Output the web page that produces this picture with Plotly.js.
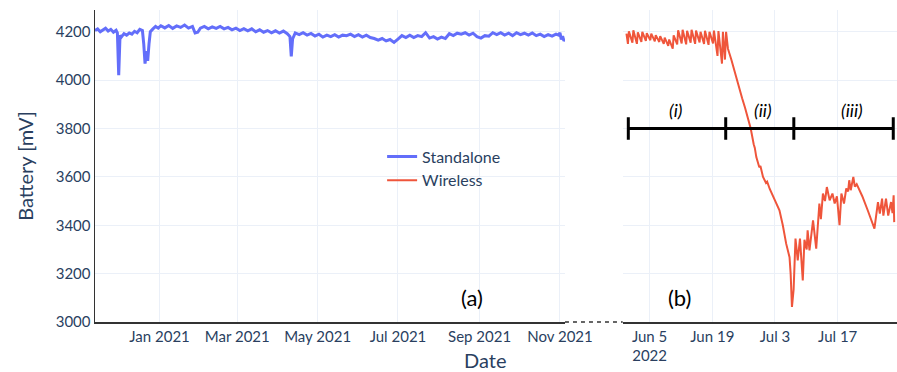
<!DOCTYPE html>
<html>
<head>
<meta charset="utf-8">
<script src="https://cdn.plot.ly/plotly-3.0.1.min.js"></script>
<style>html,body{margin:0;padding:0;background:#fff;}#chart{width:897px;height:372px;}</style>
</head>
<body>
<div id="chart"></div>
<script>
// ---------- DATA ----------
const standaloneDates = [
'2020-11-13','2020-11-15','2020-11-17','2020-11-19','2020-11-21','2020-11-23','2020-11-25','2020-11-27','2020-11-29','2020-11-30',
'2020-12-01','2020-12-02','2020-12-03','2020-12-05','2020-12-07','2020-12-09','2020-12-11','2020-12-13','2020-12-15','2020-12-17',
'2020-12-19','2020-12-20','2020-12-21','2020-12-22','2020-12-23','2020-12-24','2020-12-25','2020-12-27','2020-12-29','2020-12-31',
'2021-01-02','2021-01-05','2021-01-08','2021-01-11','2021-01-14','2021-01-17','2021-01-20','2021-01-23','2021-01-26','2021-01-28',
'2021-01-30','2021-02-01','2021-02-04','2021-02-07','2021-02-10','2021-02-13','2021-02-16','2021-02-19','2021-02-22','2021-02-25',
'2021-02-28','2021-03-03','2021-03-06','2021-03-09','2021-03-12','2021-03-15','2021-03-18','2021-03-21','2021-03-24','2021-03-27',
'2021-03-30','2021-04-02','2021-04-05','2021-04-08','2021-04-10','2021-04-11','2021-04-12','2021-04-14','2021-04-17','2021-04-20',
'2021-04-23','2021-04-26','2021-04-29','2021-05-02','2021-05-05','2021-05-08','2021-05-11','2021-05-14','2021-05-17','2021-05-20',
'2021-05-23','2021-05-26','2021-05-29','2021-06-01','2021-06-04','2021-06-07','2021-06-10','2021-06-13','2021-06-16','2021-06-19',
'2021-06-22','2021-06-25','2021-06-28','2021-07-01','2021-07-04','2021-07-07','2021-07-10','2021-07-13','2021-07-16','2021-07-19',
'2021-07-22','2021-07-25','2021-07-28','2021-07-31','2021-08-03','2021-08-06','2021-08-09','2021-08-12','2021-08-15','2021-08-18',
'2021-08-21','2021-08-24','2021-08-27','2021-08-30','2021-09-02','2021-09-05','2021-09-08','2021-09-11','2021-09-14','2021-09-17',
'2021-09-20','2021-09-23','2021-09-26','2021-09-29','2021-10-02','2021-10-05','2021-10-08','2021-10-11','2021-10-14','2021-10-17',
'2021-10-20','2021-10-23','2021-10-26','2021-10-29','2021-10-31','2021-11-01','2021-11-02','2021-11-03','2021-11-04','2021-11-05'
];
const standaloneValues = [
4205,4212,4200,4208,4215,4203,4210,4198,4206,4195,
4020,4185,4178,4192,4186,4195,4190,4202,4196,4210,
4205,4150,4068,4120,4080,4150,4200,4212,4222,4215,
4225,4216,4226,4214,4224,4218,4228,4215,4222,4195,
4198,4215,4222,4212,4220,4214,4222,4212,4218,4208,
4215,4205,4213,4204,4212,4200,4208,4198,4205,4196,
4204,4195,4203,4192,4180,4098,4170,4195,4188,4196,
4186,4193,4182,4190,4178,4186,4180,4188,4178,4186,
4184,4190,4180,4188,4178,4186,4176,4172,4165,4172,
4162,4168,4156,4170,4184,4176,4186,4176,4184,4180,
4196,4174,4180,4170,4178,4172,4192,4184,4194,4190,
4196,4186,4194,4180,4174,4184,4182,4196,4188,4196,
4186,4194,4184,4196,4188,4194,4186,4195,4184,4190,
4180,4188,4182,4190,4186,4196,4168,4182,4162,4170
];

const wirelessDates = [
'2022-05-30 20:00','2022-05-31 04:00','2022-05-31 09:00','2022-06-01 04:00','2022-06-01 09:00','2022-06-02 04:00','2022-06-02 09:00',
'2022-06-03 04:00','2022-06-03 09:00','2022-06-04 04:00','2022-06-04 09:00','2022-06-05 04:00','2022-06-05 09:00','2022-06-06 04:00',
'2022-06-06 09:00','2022-06-07 04:00','2022-06-07 09:00','2022-06-08 04:00','2022-06-08 09:00','2022-06-09 04:00','2022-06-09 09:00',
'2022-06-10 04:00','2022-06-10 09:00','2022-06-11 04:00','2022-06-11 09:00','2022-06-12 04:00','2022-06-12 09:00','2022-06-13 04:00',
'2022-06-13 09:00','2022-06-14 04:00','2022-06-14 09:00','2022-06-15 04:00','2022-06-15 09:00','2022-06-16 04:00','2022-06-16 09:00',
'2022-06-17 04:00','2022-06-17 09:00','2022-06-18 04:00','2022-06-18 09:00','2022-06-19 04:00','2022-06-19 09:00','2022-06-20 04:00',
'2022-06-20 09:00','2022-06-21 04:00','2022-06-21 09:00','2022-06-21 20:00','2022-06-22 02:00',
'2022-06-22 12:00','2022-06-23 06:00','2022-06-23 18:00','2022-06-24 10:00','2022-06-25 02:00','2022-06-25 16:00','2022-06-26 08:00',
'2022-06-26 20:00','2022-06-27 14:00','2022-06-28 06:00','2022-06-28 12:00','2022-06-28 20:00','2022-06-29 12:00','2022-06-29 18:00',
'2022-06-30 08:00','2022-07-01 00:00','2022-07-01 06:00','2022-07-01 20:00','2022-07-02 12:00','2022-07-03 06:00','2022-07-04 00:00',
'2022-07-04 18:00','2022-07-05 12:00','2022-07-06 06:00','2022-07-06 12:00','2022-07-06 19:00','2022-07-07 04:00','2022-07-07 14:00',
'2022-07-08 02:00','2022-07-08 14:00','2022-07-09 05:00','2022-07-09 14:00','2022-07-10 02:00','2022-07-10 07:00','2022-07-10 17:00',
'2022-07-11 12:00','2022-07-12 05:00','2022-07-12 22:00','2022-07-13 06:00','2022-07-13 17:00','2022-07-14 04:00','2022-07-14 14:00',
'2022-07-15 05:00','2022-07-15 20:00','2022-07-16 08:00','2022-07-16 20:00','2022-07-17 10:00','2022-07-17 20:00','2022-07-18 10:00',
'2022-07-18 22:00','2022-07-19 08:00','2022-07-19 14:00','2022-07-19 22:00','2022-07-20 12:00','2022-07-20 20:00','2022-07-21 06:00',
'2022-07-22 12:00','2022-07-23 18:00','2022-07-25 05:00','2022-07-26 00:00','2022-07-26 10:00','2022-07-26 22:00','2022-07-27 05:00',
'2022-07-27 19:00','2022-07-28 07:00','2022-07-28 22:00','2022-07-29 06:00','2022-07-29 12:00','2022-07-29 15:00'
];
const wirelessValues = [
4192,4150,4202,4155,4206,4150,4198,
4158,4200,4162,4194,4165,4192,4160,
4186,4158,4182,4150,4176,4142,4168,
4130,4185,4148,4206,4152,4208,4148,
4204,4155,4208,4150,4205,4156,4200,
4150,4204,4146,4200,4152,4205,4100,
4203,4068,4200,4085,4200,
4130,4085,4050,4010,3965,3925,3885,
3850,3800,3735,3720,3682,3640,3645,
3600,3575,3580,3550,3524,3495,3462,
3400,3324,3268,3200,3062,3135,3345,
3255,3345,3172,3340,3300,3379,3296,
3420,3303,3490,3425,3531,3500,3558,
3503,3531,3490,3520,3400,3531,3490,
3552,3540,3586,3545,3600,3560,3570,
3520,3460,3386,3496,3448,3510,3440,
3510,3440,3496,3450,3524,3413
];

const phaseBounds = ['2022-05-31 06:00','2022-06-22 00:00','2022-07-07 05:00','2022-07-29 10:00'];
const phaseLevel = 3800;
const phaseLabels = ['(i)','(ii)','(iii)'];
const phaseLabelX = ['2022-06-10 20:00','2022-06-30 07:00','2022-07-20 05:00'];

const seriesNames = ['Standalone','Wireless'];
const panelLabels = ['(a)','(b)'];

// ---------- CHART ----------
const FONT = 'Lato, "Open Sans", sans-serif';
const TXT = '#2a3f5f';
const GRID = '#EBF0F8';
const dL = 0.586, dR = 0.658;

const traces = [
  {x: standaloneDates, y: standaloneValues, name: seriesNames[0], type: 'scatter', mode: 'lines',
   line: {color: '#636EFA', width: 3}, xaxis: 'x', yaxis: 'y'},
  {x: wirelessDates, y: wirelessValues, name: seriesNames[1], type: 'scatter', mode: 'lines',
   line: {color: '#EF553B', width: 2}, xaxis: 'x2', yaxis: 'y2'},
  {x: phaseBounds, y: phaseBounds.map(() => phaseLevel), type: 'scatter', mode: 'lines+markers',
   line: {color: 'black', width: 3}, marker: {symbol: 'line-ns-open', size: 16, line: {color: 'black', width: 3}},
   showlegend: false, hoverinfo: 'skip', xaxis: 'x2', yaxis: 'y2'}
];

const annotations = [
  {text: panelLabels[0], xref: 'paper', yref: 'paper', x: 0.470, y: 0.08, xanchor: 'center', yanchor: 'middle', showarrow: false,
   font: {family: FONT, size: 22, color: 'black'}},
  {text: panelLabels[1], xref: 'paper', yref: 'paper', x: 0.7294, y: 0.08, xanchor: 'center', yanchor: 'middle', showarrow: false,
   font: {family: FONT, size: 22, color: 'black'}},
  {text: 'Date', xref: 'paper', yref: 'paper', x: 0.486, y: -0.122, xanchor: 'center', yanchor: 'middle', showarrow: false,
   font: {family: FONT, size: 20, color: TXT}}
];
phaseLabels.forEach((t, i) => annotations.push({
  text: '<i>' + t + '</i>', xref: 'x2', yref: 'y', x: phaseLabelX[i], y: 3876, xanchor: 'center', yanchor: 'middle', showarrow: false,
  font: {family: FONT, size: 18, color: 'black'}
}));

const layout = {
  width: 897, height: 372,
  margin: {l: 95, r: 0, t: 10, b: 50},
  paper_bgcolor: 'white', plot_bgcolor: 'white',
  font: {family: FONT, color: TXT, size: 15},
  showlegend: true,
  legend: {x: 0.358, y: 0.585, xanchor: 'left', yanchor: 'top', bgcolor: 'rgba(0,0,0,0)',
           font: {family: FONT, size: 16, color: TXT}, tracegroupgap: 0},
  xaxis: {domain: [0, dL], type: 'date', range: ['2020-11-13', '2021-11-04 19:00'],
          dtick: 'M2', tick0: '2021-01-01', showgrid: true, gridcolor: GRID,
          showline: true, linecolor: '#333', linewidth: 1.5, zeroline: false,
          tickfont: {family: FONT, size: 15, color: TXT}, anchor: 'y'},
  xaxis2: {domain: [dR, 1], type: 'date', range: ['2022-05-30', '2022-07-30 06:00'],
           dtick: 14 * 86400000, tick0: '2022-06-05', showgrid: true, gridcolor: GRID,
           showline: true, linecolor: '#333', linewidth: 1.5, zeroline: false,
           tickfont: {family: FONT, size: 15, color: TXT}, anchor: 'y2'},
  yaxis: {range: [3000, 4290], dtick: 200, tick0: 3000, showgrid: true, gridcolor: GRID,
          showline: true, linecolor: '#333', linewidth: 1.5, zeroline: false,
          tickfont: {family: FONT, size: 15, color: TXT}, anchor: 'x',
          title: {text: 'Battery [mV]', font: {family: FONT, size: 20, color: TXT}, standoff: 16}},
  yaxis2: {matches: 'y', anchor: 'x2', showticklabels: false, showgrid: true, gridcolor: GRID,
           showline: false, zeroline: false, range: [3000, 4290], dtick: 200, tick0: 3000},
  shapes: [
    {type: 'line', xref: 'paper', yref: 'paper', x0: dL, x1: dR, y0: 0, y1: 0,
     line: {color: '#333', width: 1.5, dash: '4px,4px'}}
  ],
  annotations: annotations
};

Plotly.newPlot('chart', traces, layout, {displayModeBar: false, staticPlot: true});
</script>
</body>
</html>
